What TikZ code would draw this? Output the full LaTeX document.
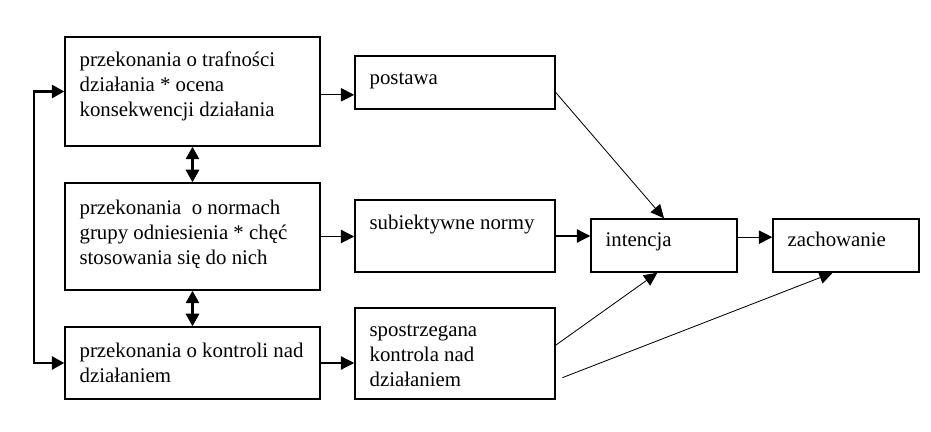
\documentclass[tikz,border=0pt]{standalone}
\usepackage{fontspec}
\setmainfont{Liberation Serif}
\usetikzlibrary{arrows.meta}

\begin{document}
\begin{tikzpicture}[x=0.6pt, y=-0.6pt,
    box/.style={draw, line width=0.9pt, inner sep=0pt},
    txt/.style={align=left, inner sep=0pt, anchor=north west,
      font=\fontsize{12.5}{15}\selectfont},
    arr/.style={-{Triangle[length=8pt,width=8pt]}, line width=0.7pt},
    thin/.style={-{Triangle[length=8pt,width=7.5pt]}, line width=0.5pt},
    dbl/.style={{Triangle[length=7.5pt,width=8pt]}-{Triangle[length=7.5pt,width=8pt]}, line width=1.3pt}]
  \useasboundingbox (0, 0) rectangle (931, 432);
  % boxes
  \draw (192.5, 91.5) node[box, minimum width=153pt, minimum height=65.4pt] (tra) {};
  \draw (192.5, 236.5) node[box, minimum width=153pt, minimum height=64.2pt] (nor) {};
  \draw (192.5, 363)  node[box, minimum width=153pt, minimum height=43.2pt] (kon) {};
  \draw (455, 82.5)   node[box, minimum width=120pt, minimum height=31.8pt] (pos) {};
  \draw (455, 236)    node[box, minimum width=120pt, minimum height=43.2pt] (sub) {};
  \draw (455, 353.5)  node[box, minimum width=120pt, minimum height=54.6pt] (spo) {};
  \draw (664, 245.5)  node[box, minimum width=87.6pt, minimum height=31.8pt] (int) {};
  \draw (846, 245.5)  node[box, minimum width=87.6pt, minimum height=31.8pt] (zach) {};
  % texts
  \node[txt] (tra-t) at ([shift={(9pt,-7.5pt)}]tra.north west)
    {\strut przekonania o trafności\\działania * ocena\\konsekwencji działania};
  \node[txt] (nor-t) at ([shift={(9pt,-8.5pt)}]nor.north west)
    {\strut przekonania\ \ o normach\\grupy odniesienia * chęć\\stosowania się do nich};
  \node[txt] (kon-t) at ([shift={(9pt,-8pt)}]kon.north west)
    {\strut przekonania o kontroli nad\\działaniem};
  \node[txt] (pos-t) at ([shift={(9pt,-7pt)}]pos.north west) {\strut postawa};
  \node[txt] (sub-t) at ([shift={(9pt,-7.5pt)}]sub.north west) {\strut subiektywne normy};
  \node[txt] (spo-t) at ([shift={(9pt,-7pt)}]spo.north west)
    {\strut spostrzegana\\kontrola nad\\działaniem};
  \node[txt] (int-t) at ([shift={(9pt,-6.5pt)}]int.north west) {\strut intencja};
  \node[txt] (zach-t) at ([shift={(9pt,-6.5pt)}]zach.north west) {\strut zachowanie};
  % connectors
  \draw[dbl] (tra.south) -- (nor.north);
  \draw[dbl] (nor.south) -- (kon.north);
  \draw[dbl] (tra.west) -- ++(-30, 0) |- (kon.west);
  \draw[arr] ([yshift=-2pt]tra.east) -- ([yshift=-2pt]tra.east -| pos.west);
  \draw[arr] (nor.east) -- (nor.east -| sub.west);
  \draw[arr] (kon.east) -- (kon.east -| spo.west);
  \draw[arr] (sub.east) -- (sub.east -| int.west);
  \draw[arr] ([yshift=5pt]int.east) -- ([yshift=5pt]zach.west);
  \draw[thin] ([yshift=-6pt]pos.east) -- (int.north);
  \draw[thin] ([yshift=5pt]spo.east) -- ([xshift=-4pt]int.south);
  \draw[thin] ([shift={(4pt,-14.5pt)}]spo.east) -- ([xshift=-8pt]zach.south);
\end{tikzpicture}
\end{document}
